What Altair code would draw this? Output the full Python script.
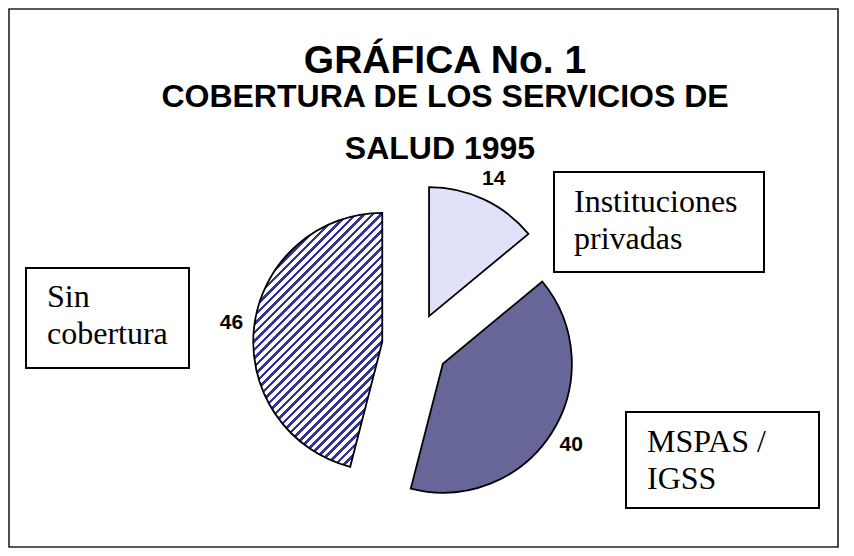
import altair as alt
import pandas as pd

# ---------------- data ----------------
categories = ["Instituciones\nprivadas", "MSPAS /\nIGSS", "Sin\ncobertura"]
values = [14, 40, 46]
slice_order = [0, 1, 2]
title_lines = ["GRÁFICA No. 1", "COBERTURA DE LOS SERVICIOS DE", "SALUD 1995"]

# ---------------- layout / style constants ----------------
W, H = 838, 540
CX, CY = 407, 338          # centre of the (unexploded) pie
R = 129                    # pie radius
EXPLODE = 33               # explosion distance of every slice
LABEL_R = 152              # distance of value labels from slice apex

box_x = [546, 618, 18]
box_x2 = [756, 811, 181]
box_y = [164, 404, 260]
box_y2 = [264, 500, 360]
text_x = [566, 639, 39]
text_y = [204, 444, 299]

title_x = [437, 437, 432]
title_y = [65, 99, 151]
title_size = [39, 32, 32]

DARK = "#333399"
SOLID = "#666699"
DOTTED = "#e1e1fa"

# diagonal stripe gradient (objectBoundingBox units of the 46 % slice)
N_STRIPES = 45
stops = []
for k in range(N_STRIPES):
    a = round(k / N_STRIPES, 5)
    b = round((k + 0.42) / N_STRIPES, 5)
    c = round((k + 1) / N_STRIPES, 5)
    stops += [
        {"offset": a, "color": DARK},
        {"offset": b, "color": DARK},
        {"offset": b, "color": "#ffffff"},
        {"offset": c, "color": "#ffffff"},
    ]
stripe_fill = {"gradient": "linear", "x1": 0, "y1": 0, "x2": 0.6088, "y2": 1.1987, "stops": stops}

fills = [DOTTED, SOLID, stripe_fill]

# ---------------- pie ----------------
df = pd.DataFrame({"cat": categories, "value": values, "order": slice_order})

base = (
    alt.Chart(df)
    .transform_joinaggregate(total="sum(value)")
    .transform_window(cum="sum(value)", sort=[alt.SortField("order")], frame=[None, 0])
    .transform_calculate(t0="2*PI*(datum.cum - datum.value)/datum.total")
    .transform_calculate(t1="2*PI*datum.cum/datum.total")
    .transform_calculate(mid="(datum.t0 + datum.t1)/2")
    .transform_calculate(px=f"{CX} + {EXPLODE}*sin(datum.mid)")
    .transform_calculate(py=f"{CY} - {EXPLODE}*cos(datum.mid)")
    .transform_calculate(lx=f"{CX} + {EXPLODE + LABEL_R}*sin(datum.mid)")
    .transform_calculate(ly=f"{CY} - {EXPLODE + LABEL_R}*cos(datum.mid)")
)

slice_layers = []
for i in slice_order:
    slice_layers.append(
        base.transform_filter(f"datum.order == {i}")
        .mark_arc(radius=R, fill=fills[i], stroke="black", strokeWidth=1.8)
        .encode(
            x=alt.X("px:Q", scale=None, axis=None),
            y=alt.Y("py:Q", scale=None, axis=None),
            theta=alt.Theta("t0:Q", scale=None),
            theta2="t1:Q",
        )
    )

value_labels = base.mark_text(
    font="Liberation Sans", fontWeight="bold", fontSize=21, align="center", baseline="middle", color="black"
).encode(
    x=alt.X("lx:Q", scale=None, axis=None),
    y=alt.Y("ly:Q", scale=None, axis=None),
    text=alt.Text("value:Q"),
)

# ---------------- label boxes ----------------
boxes_df = pd.DataFrame({
    "cat": categories, "bx": box_x, "bx2": box_x2, "by": box_y, "by2": box_y2,
    "tx": text_x, "ty": text_y,
})
boxes = alt.Chart(boxes_df).mark_rect(fill="white", stroke="black", strokeWidth=2).encode(
    x=alt.X("bx:Q", scale=None, axis=None), x2="bx2:Q",
    y=alt.Y("by:Q", scale=None, axis=None), y2="by2:Q",
)
box_text = alt.Chart(boxes_df).mark_text(
    font="Liberation Serif", fontSize=32, align="left", baseline="alphabetic",
    lineBreak="\n", lineHeight=37, color="black",
).encode(
    x=alt.X("tx:Q", scale=None, axis=None),
    y=alt.Y("ty:Q", scale=None, axis=None),
    text="cat:N",
)

# ---------------- title ----------------
title_df = pd.DataFrame({"t": title_lines, "x": title_x, "y": title_y, "s": title_size})
title = alt.Chart(title_df).mark_text(
    font="Liberation Sans", fontWeight="bold", align="center", baseline="alphabetic", color="black"
).encode(
    x=alt.X("x:Q", scale=None, axis=None),
    y=alt.Y("y:Q", scale=None, axis=None),
    text="t:N",
    size=alt.Size("s:Q", scale=None, legend=None),
)

# ---------------- frame ----------------
frame = alt.Chart(pd.DataFrame({"a": [0]})).mark_rect(
    fill="white", stroke="#222222", strokeWidth=1.6
).encode(
    x=alt.value(1), x2=alt.value(830), y=alt.value(1), y2=alt.value(539)
)

chart = alt.layer(
    frame, *slice_layers, value_labels, boxes, box_text, title
).properties(
    width=W, height=H, padding=0, autosize=alt.AutoSizeParams(type="none"),
).configure_view(stroke=None)

chart.save("out.html", embed_options={"renderer": "svg", "actions": False})
